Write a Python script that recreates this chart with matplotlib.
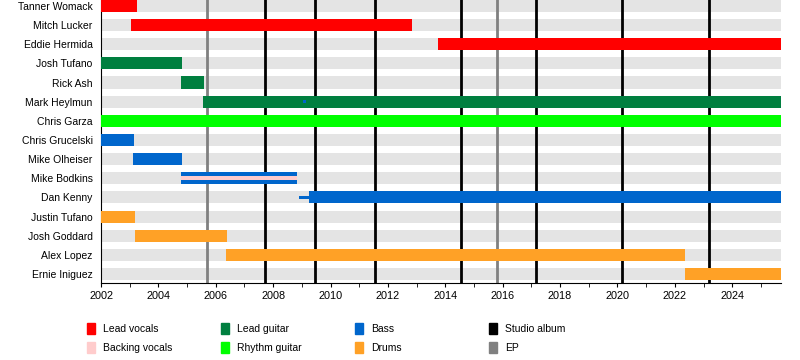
import matplotlib.pyplot as plt
from matplotlib.patches import Patch

plt.rcParams['font.family'] = ['Liberation Sans', 'DejaVu Sans']

END = 2025.7

members = ['Tanner Womack', 'Mitch Lucker', 'Eddie Hermida', 'Josh Tufano', 'Rick Ash',
           'Mark Heylmun', 'Chris Garza', 'Chris Grucelski', 'Mike Olheiser', 'Mike Bodkins',
           'Dan Kenny', 'Justin Tufano', 'Josh Goddard', 'Alex Lopez', 'Ernie Iniguez']

# main bars: member, start, end, role
bar_member = ['Tanner Womack', 'Mitch Lucker', 'Eddie Hermida', 'Josh Tufano', 'Rick Ash',
              'Mark Heylmun', 'Chris Garza', 'Chris Grucelski', 'Mike Olheiser', 'Mike Bodkins',
              'Dan Kenny', 'Justin Tufano', 'Josh Goddard', 'Alex Lopez', 'Ernie Iniguez']
bar_start = [2002.0, 2003.05, 2013.74, 2002.0, 2004.8, 2005.55, 2002.0, 2002.0, 2003.1, 2004.8,
             2009.25, 2002.0, 2003.2, 2006.35, 2022.35]
bar_end = [2003.25, 2012.83, END, 2004.82, 2005.6, END, END, 2003.15, 2004.82, 2008.83,
           END, 2003.2, 2006.4, 2022.35, END]
bar_role = ['Lead vocals', 'Lead vocals', 'Lead vocals', 'Lead guitar', 'Lead guitar',
            'Lead guitar', 'Rhythm guitar', 'Bass', 'Bass', 'Bass',
            'Bass', 'Drums', 'Drums', 'Drums', 'Drums']

# thin secondary bars
thin_member = ['Mike Bodkins', 'Dan Kenny', 'Mark Heylmun']
thin_start = [2004.8, 2008.9, 2009.05]
thin_end = [2008.83, 2009.25, 2009.15]
thin_role = ['Backing vocals', 'Bass', 'Bass']

studio_albums = [2007.7, 2009.45, 2011.55, 2014.55, 2017.15, 2020.15, 2023.2]
eps = [2005.7, 2015.8]

colors = {'Lead vocals': '#ff0000', 'Backing vocals': '#ffcccc', 'Lead guitar': '#007f3f',
          'Rhythm guitar': '#00ff00', 'Bass': '#0066cc', 'Drums': '#ffa126',
          'Studio album': '#000000', 'EP': '#808080'}

fig = plt.figure(figsize=(8, 3.6), dpi=100)
ax = fig.add_axes([101/800, 1 - 283/360, 680/800, 283/360])

rows = {m: i for i, m in enumerate(members)}
ax.barh(range(len(members)), END - 2002, left=2002, height=0.63, color='#e4e4e4', zorder=1)

for x in studio_albums:
    ax.axvline(x, color=colors['Studio album'], lw=2, zorder=2)
for x in eps:
    ax.axvline(x, color=colors['EP'], lw=2, zorder=2)

for m, s, e, r in zip(bar_member, bar_start, bar_end, bar_role):
    ax.barh(rows[m], e - s, left=s, height=0.63, color=colors[r], zorder=3)
for m, s, e, r in zip(thin_member, thin_start, thin_end, thin_role):
    h = 0.2 if r == 'Backing vocals' else 0.15
    ax.barh(rows[m], e - s, left=s, height=h, color=colors[r], zorder=4)

ax.set_xlim(2002, END)
ax.set_ylim(14.47, -0.31)
ax.set_yticks(range(len(members)))
ax.set_yticklabels(members, fontsize=7.5)
ax.tick_params(axis='y', length=0, pad=6)
ax.set_xticks(range(2002, 2025, 2))
ax.set_xticks(range(2002, 2026), minor=True)
ax.tick_params(axis='x', which='both', length=3, labelsize=7.8, pad=3)
ax.spines['top'].set_visible(False)
ax.spines['right'].set_visible(False)

legend_cols = [['Lead vocals', 'Backing vocals'], ['Lead guitar', 'Rhythm guitar'],
               ['Bass', 'Drums'], ['Studio album', 'EP']]
for i, col in enumerate(legend_cols):
    handles = [Patch(color=colors[c], label=c) for c in col]
    fig.legend(handles=handles, loc='upper left', bbox_to_anchor=((82 + 134*i)/800, 0.118),
               frameon=False, fontsize=7.5, handlelength=0.75, handleheight=1.3,
               handletextpad=0.75, labelspacing=0.75, borderpad=0)

fig.savefig('out.png', dpi=100)
